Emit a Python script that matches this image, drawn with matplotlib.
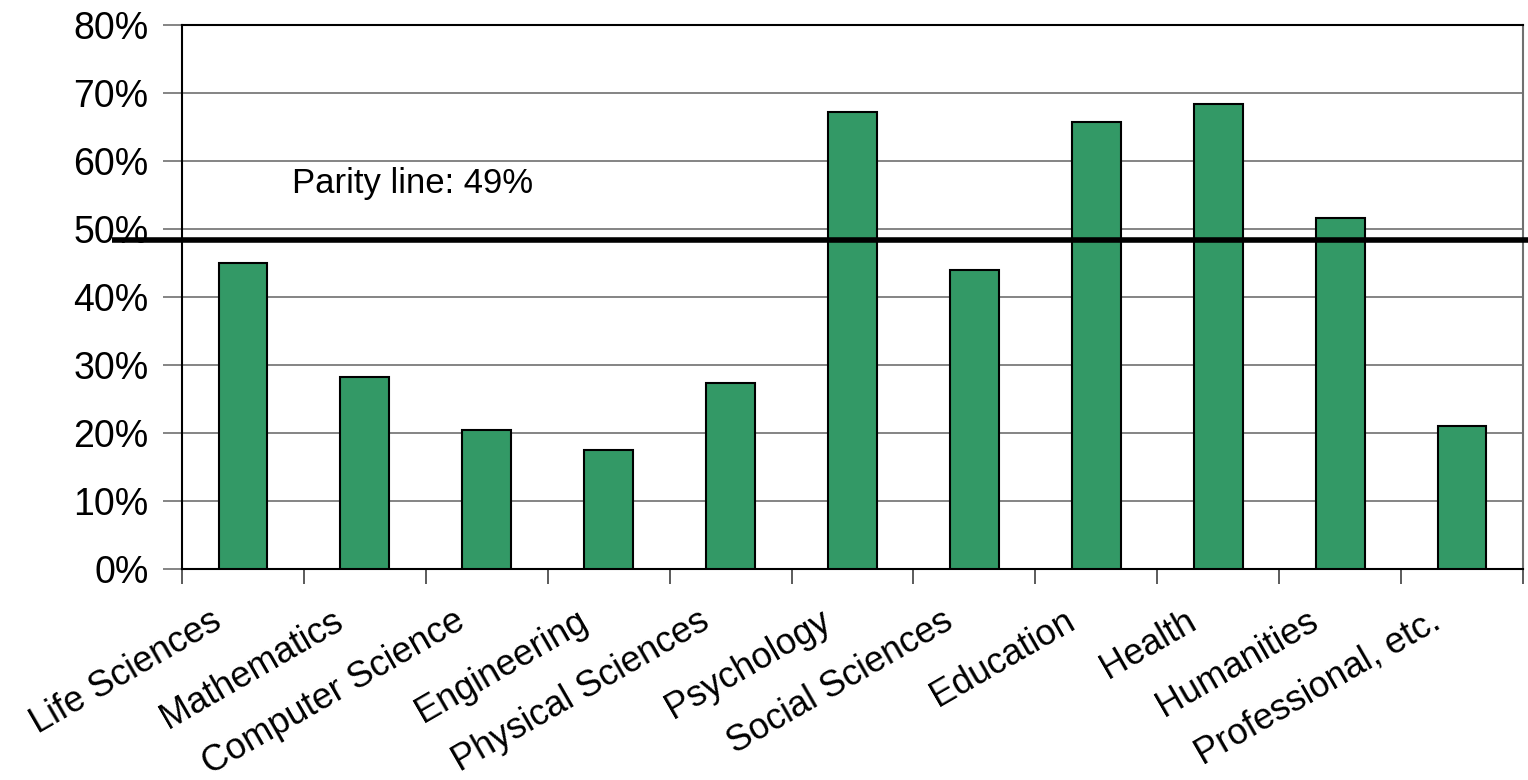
import matplotlib
matplotlib.use("Agg")
import matplotlib.pyplot as plt
from matplotlib.ticker import PercentFormatter, FixedLocator
from matplotlib.transforms import ScaledTranslation
import numpy as np

categories = ["Life Sciences", "Mathematics", "Computer Science", "Engineering",
              "Physical Sciences", "Psychology", "Social Sciences", "Education",
              "Health", "Humanities", "Professional, etc."]
women_share = [0.450, 0.282, 0.204, 0.175, 0.274, 0.672, 0.440, 0.657, 0.684, 0.516, 0.210]
parity_level = 0.484
parity_label = "Parity line: 49%"
y_ticks = [0, 0.1, 0.2, 0.3, 0.4, 0.5, 0.6, 0.7, 0.8]

plt.rcParams['font.family'] = ['Liberation Sans', 'DejaVu Sans']

fig = plt.figure(figsize=(15.28, 7.8), dpi=100)
ax = fig.add_axes([182/1528, 1-569/780, (1523-182)/1528, (569-25)/780])

x = np.arange(len(categories))
ax.bar(x, women_share, width=0.40, color="#339966", edgecolor="black", linewidth=1.5, zorder=3)

ax.set_xlim(-0.5, len(categories)-0.5)
ax.set_ylim(0, 0.8)
ax.yaxis.set_major_locator(FixedLocator(y_ticks))
ax.yaxis.set_major_formatter(PercentFormatter(1.0, decimals=0))
ax.grid(axis='y', color='#707070', linewidth=1.2, zorder=0)

ax.set_xticks(x)
ax.set_xticklabels(categories, rotation=30, ha='right', rotation_mode='anchor', fontsize=26)
ax.set_xticks(list(x - 0.5) + [len(categories)-0.5], minor=True)
ax.tick_params(axis='x', which='major', length=0, pad=25)
ax.tick_params(axis='x', which='minor', length=11, width=1.2, color='#404040')
ax.tick_params(axis='y', length=14, width=1.2, color='#707070', labelsize=27, pad=10)

offset = ScaledTranslation(-33/100, 0, fig.dpi_scale_trans)
for lbl in ax.get_xticklabels():
    lbl.set_transform(lbl.get_transform() + offset)

for side in ['left', 'bottom', 'top']:
    ax.spines[side].set_color('black')
    ax.spines[side].set_linewidth(1.5)
ax.spines['right'].set_color('#707070')
ax.spines['right'].set_linewidth(1.5)

ax.plot([-0.5 - 70/121.9, len(categories)-0.5 + 5/121.9], [parity_level, parity_level],
        color='black', linewidth=4, clip_on=False, zorder=5, solid_capstyle='butt')
ax.text(0.40, 0.553, parity_label, fontsize=25, ha='left', va='baseline', zorder=6)

fig.savefig("out.png", dpi=100)
